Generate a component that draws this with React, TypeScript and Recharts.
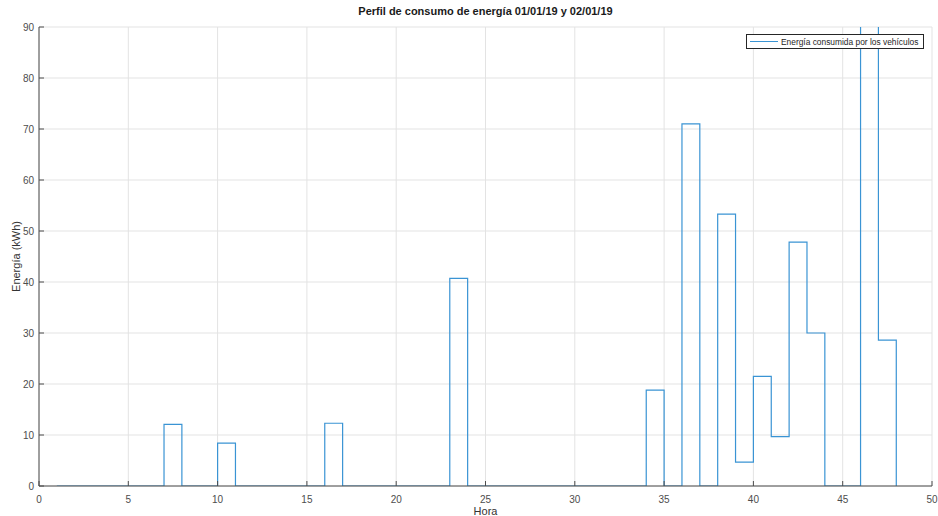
import { CartesianGrid, Line, LineChart, XAxis, YAxis } from "recharts";

// hours (stairs start) and energy per hour
const hours = [
  1, 2, 3, 4, 5, 6, 7, 8, 9, 10, 11, 12, 13, 14, 15, 16, 17, 18, 19, 20, 21, 22, 23, 24,
  25, 26, 27, 28, 29, 30, 31, 32, 33, 34, 35, 36, 37, 38, 39, 40, 41, 42, 43, 44, 45, 46, 47, 48,
];
const energy = [
  0, 0, 0, 0, 0, 0, 12.1, 0, 0, 8.4, 0, 0, 0, 0, 0, 12.3, 0, 0, 0, 0, 0, 0, 40.7, 0,
  0, 0, 0, 0, 0, 0, 0, 0, 0, 18.8, 0, 71.0, 0, 53.3, 4.7, 21.5, 9.7, 47.8, 30.0, 0, 0, 105, 28.6, 0,
];
const xTicks = [0, 5, 10, 15, 20, 25, 30, 35, 40, 45, 50];
const yTicks = [0, 10, 20, 30, 40, 50, 60, 70, 80, 90];

const title = "Perfil de consumo de energía 01/01/19 y 02/01/19";
const seriesName = "Energía consumida por los vehículos";

const data = hours.map((h, i) => ({ hour: h, energy: energy[i] }));

const FONT = "'Liberation Sans', Arial, sans-serif";
const AXIS = "#4d4d4d";
const LINE = "#3a94d4";

const tickStyle = { fontSize: 10, fill: "#4d4d4d", fontFamily: FONT };
const noTick = () => <g />;

export default function App() {
  return (
    <div style={{ position: "absolute", left: 0, top: 0, width: 938, height: 516, background: "#fff", fontFamily: FONT }}>
      <div
        style={{
          position: "absolute",
          top: 5,
          left: 39,
          width: 893,
          textAlign: "center",
          fontSize: 11,
          fontWeight: "bold",
          color: "#1a1a1a",
        }}
      >
        {title}
      </div>
      <LineChart width={938} height={516} data={data} margin={{ top: 27, right: 6, bottom: 0, left: 9 }}>
        <CartesianGrid stroke="#e3e3e3" strokeWidth={1} verticalValues={xTicks} horizontalValues={yTicks} />
        <XAxis
          dataKey="hour"
          type="number"
          domain={[0, 50]}
          ticks={xTicks}
          interval={0}
          height={30}
          tickSize={-5}
          tickMargin={15}
          tick={tickStyle}
          stroke={AXIS}
          label={{ value: "Hora", position: "insideBottom", offset: 1, fontSize: 11, fill: "#333", fontFamily: FONT }}
        />
        <XAxis
          xAxisId="top"
          orientation="top"
          type="number"
          domain={[0, 50]}
          ticks={xTicks}
          interval={0}
          height={0}
          tickSize={-5}
          tick={noTick}
          stroke={AXIS}
        />
        <YAxis
          type="number"
          domain={[0, 90]}
          ticks={yTicks}
          interval={0}
          allowDataOverflow
          width={30}
          tickSize={-5}
          tickMargin={10}
          tick={tickStyle}
          stroke={AXIS}
          label={{
            value: "Energía (kWh)",
            angle: -90,
            position: "insideLeft",
            offset: 7,
            style: { textAnchor: "middle" },
            fontSize: 11,
            fill: "#333",
            fontFamily: FONT,
          }}
        />
        <YAxis
          yAxisId="right"
          orientation="right"
          type="number"
          domain={[0, 90]}
          ticks={yTicks}
          interval={0}
          width={0}
          tickSize={-5}
          tick={noTick}
          stroke={AXIS}
        />
        <Line
          type="stepAfter"
          dataKey="energy"
          name={seriesName}
          stroke={LINE}
          strokeWidth={1.2}
          dot={false}
          activeDot={false}
          isAnimationActive={false}
        />
      </LineChart>
      <div
        style={{
          position: "absolute",
          left: 746,
          top: 34,
          width: 178,
          height: 15,
          border: "1px solid #262626",
          background: "#fff",
          display: "flex",
          alignItems: "center",
          fontSize: 8.4,
          color: "#262626",
          boxSizing: "border-box",
          whiteSpace: "nowrap",
        }}
      >
        <div style={{ flex: "0 0 28px", height: 1, background: LINE, marginLeft: 3, marginRight: 3 }} />
        <span>{seriesName}</span>
      </div>
    </div>
  );
}
